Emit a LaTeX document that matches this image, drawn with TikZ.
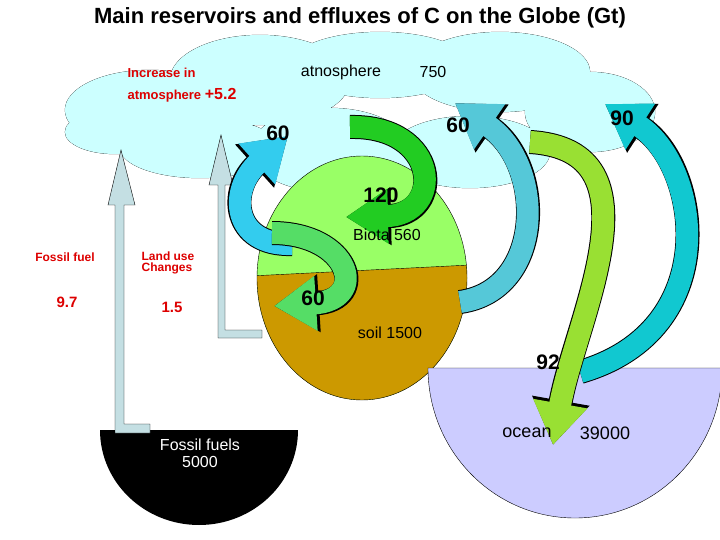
\documentclass[tikz,border=0pt]{standalone}
\usepackage{fontspec}
\setmainfont{Liberation Sans}
\usetikzlibrary{arrows.meta}
\definecolor{cloudc}{HTML}{CCFFFF}
\definecolor{biota}{HTML}{99FF66}
\definecolor{soil}{HTML}{CC9900}
\definecolor{ocean}{HTML}{CCCCFF}
\definecolor{pipe}{HTML}{C4DFE3}
\definecolor{redt}{HTML}{DD0000}
\definecolor{aA}{HTML}{33CCEE}
\definecolor{aB}{HTML}{22CC22}
\definecolor{aC}{HTML}{55C8D8}
\definecolor{aD}{HTML}{11C8D0}
\definecolor{aE}{HTML}{99E033}
\definecolor{aF}{HTML}{55DD66}
\newcommand\fatarrow[2]{%
 \draw[line width=24pt,black,-{Triangle[width=55pt,length=45pt]}] #2;
 \draw[line width=22pt,#1,-{Triangle[width=52pt,length=42pt]}] #2;}
\begin{document}
\begin{tikzpicture}[x=1pt,y=-1pt,
 lbl/.style={font=\fontsize{13}{14}\selectfont\bfseries,text=redt},
 num/.style={font=\fontsize{21}{22}\selectfont\bfseries},
 txt/.style={font=\fontsize{16}{17}\selectfont}]
\useasboundingbox (0,0) rectangle (720,540);
% cloud
\def\cloudparts{
 (150,110) ellipse [x radius=85,y radius=40]
 (115,132) ellipse [x radius=50,y radius=22]
 (260,80) ellipse [x radius=90,y radius=45]
 (380,65) ellipse [x radius=90,y radius=33]
 (500,72) ellipse [x radius=90,y radius=40]
 (590,112) ellipse [x radius=65,y radius=40]
 (330,150) ellipse [x radius=80,y radius=42]
 (470,152) ellipse [x radius=80,y radius=36]
 (200,148) ellipse [x radius=80,y radius=30]}
\draw[black,fill=cloudc] \cloudparts;
\fill[cloudc] \cloudparts;
% biota / soil
\begin{scope}
 \clip (362,278) ellipse [x radius=105,y radius=122];
 \fill[biota] (250,150) rectangle (470,410);
 \fill[soil] (250,276) -- (470,265) -- (470,410) -- (250,410) -- cycle;
 \draw (250,276) -- (470,265);
\end{scope}
\draw (362,278) ellipse [x radius=105,y radius=122];
% ocean
\draw[fill=ocean] (428,368) arc[start angle=180,end angle=0,x radius=147,y radius=150] -- cycle;
% fossil
\fill[black] (100,430) arc[start angle=180,end angle=0,x radius=99,y radius=95] -- cycle;
% pipes
\draw[fill=pipe] (115,430) -- (115,205) -- (108,205) -- (121,150) -- (135,205) -- (124,205) -- (124,424) -- (150,424) -- (150,433) -- (115,433) -- cycle;
\draw[fill=pipe] (218,338) -- (218,185) -- (209,185) -- (221,135) -- (233,185) -- (225,185) -- (225,330) -- (262,330) -- (262,338) -- cycle;
% arrows
\fatarrow{aA}{(292,244) .. controls (232,246) and (228,190) .. (288,136)}
\fatarrow{aB}{(350,127) .. controls (440,125) and (445,215) .. (346,217)}
\fatarrow{aC}{(460,302) .. controls (545,290) and (545,165) .. (455,103)}
\fatarrow{aD}{(580,372) .. controls (725,330) and (700,165) .. (605,104)}
\fatarrow{aE}{(530,142) .. controls (665,150) and (575,320) .. (553,445)}
\fatarrow{aF}{(272,233) .. controls (350,233) and (370,300) .. (274,306)}
% texts
\node[font=\fontsize{22}{24}\selectfont\bfseries] (title) at (360,18) {Main reservoirs and effluxes of C on the Globe (Gt)};
\node[lbl,anchor=west] (inc1) at (124,73) {Increase in};
\node[lbl,anchor=west] (inc2) at (124,95) {atmosphere \fontsize{16}{16}\selectfont+5.2};
\node[txt] (atm) at (341,72) {atnosphere};
\node[txt] (atmn) at (433,72) {750};
\node[lbl,font=\fontsize{12}{13}\selectfont\bfseries] (ff) at (65,257) {Fossil fuel};
\node[lbl,font=\fontsize{12}{11}\selectfont\bfseries,align=left] (lu) at (168,263) {Land use\\Changes};
\node[lbl,font=\fontsize{15}{16}\selectfont\bfseries] (ffn) at (67,302) {9.7};
\node[lbl,font=\fontsize{15}{16}\selectfont\bfseries] (lun) at (172,307) {1.5};
\node[num] (n1) at (278,133) {60};
\node[num] (n2) at (381,195) {120};
\node[num] (n3) at (458,125) {60};
\node[num] (n4) at (622,118) {90};
\node[num] (n5) at (548,362) {92};
\node[num] (n6) at (313,298) {60};
\node[txt] (bio) at (387,235) {Biota 560};
\node[txt] (soilt) at (390,333) {soil 1500};
\node[font=\fontsize{18}{19}\selectfont] (oc) at (527,433) {ocean};
\node[font=\fontsize{18}{19}\selectfont] (ocn) at (605,433) {39000};
\node[txt,text=white,align=center] (fft) at (200,453) {Fossil fuels\\5000};
\end{tikzpicture}
\end{document}
